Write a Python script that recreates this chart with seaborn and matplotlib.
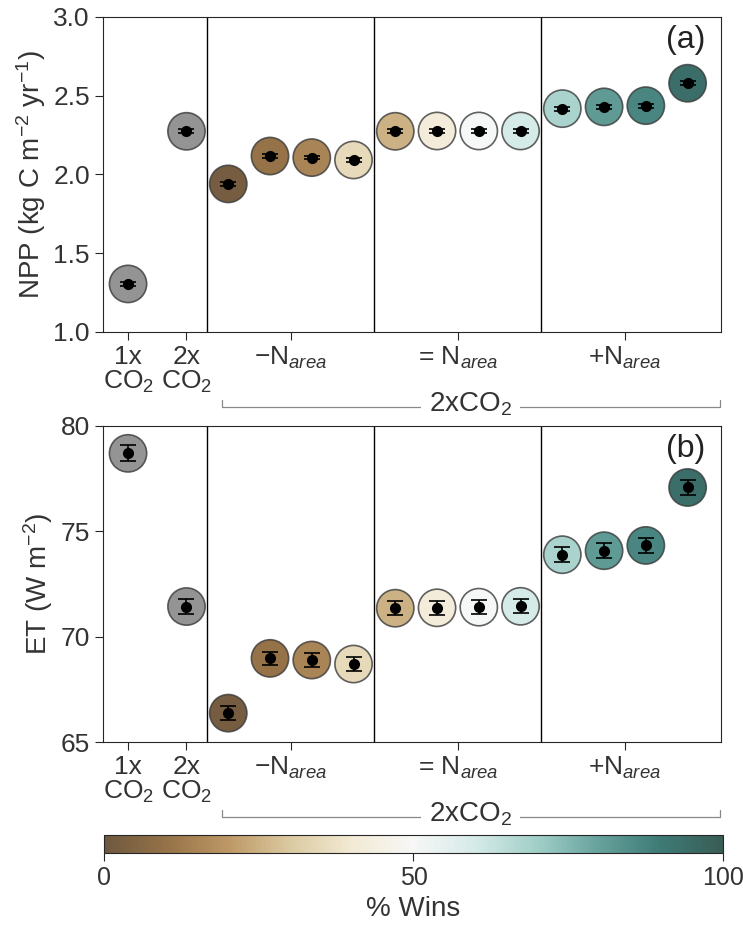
import numpy as np
import matplotlib
matplotlib.use("Agg")
import matplotlib.pyplot as plt
import matplotlib.transforms as mtransforms
from matplotlib.colors import ListedColormap, Normalize, to_rgba
from matplotlib.cm import ScalarMappable
import seaborn as sns

# experiments: 1xCO2, 2xCO2, then 4 runs each for -Narea, =Narea, +Narea
npp = [1.305, 2.274, 1.940, 2.117, 2.107, 2.092, 2.274, 2.276, 2.276, 2.276,
       2.418, 2.429, 2.437, 2.579]
npp_err = [0.012] * 14
et = [78.70, 71.43, 66.37, 68.97, 68.89, 68.70, 71.35, 71.37, 71.40, 71.44,
      73.89, 74.08, 74.33, 77.08]
et_err = [0.38, 0.35, 0.33, 0.32, 0.32, 0.32, 0.33, 0.33, 0.33, 0.33,
          0.35, 0.35, 0.36, 0.37]
# % wins for the 12 Narea runs (colour)
wins = [2, 10, 15, 35, 25, 42, 50, 60, 68, 82, 87, 94]

tick_labels = ["1x\nCO$_2$", "2x\nCO$_2$", "$-$N$_{area}$", "= N$_{area}$", "+N$_{area}$"]

sns.set_style("ticks")
plt.rcParams["font.family"] = ["Liberation Sans", "DejaVu Sans"]
plt.rcParams["mathtext.fontset"] = "custom"
plt.rcParams["mathtext.rm"] = "Liberation Sans"
plt.rcParams["mathtext.it"] = "Liberation Sans:italic"

alpha = 0.8
base = [sns.desaturate(c, 0.75) for c in plt.get_cmap("BrBG")(np.linspace(0, 1, 256))[:, :3]]
base = np.column_stack([np.array(base), np.full(256, alpha)])
cmap = ListedColormap(base)
norm = Normalize(0, 100)

xpos = np.r_[-2.4, -1.0, np.arange(12)]
tick_pos = [-2.4, -1.0, 1.5, 5.5, 9.5]

fig = plt.figure(figsize=(7.43, 9.26), dpi=100)
ax1 = fig.add_axes([0.1386, 0.6415, 0.8318, 0.3402])
ax2 = fig.add_axes([0.1386, 0.1987, 0.8318, 0.3413])
cax = fig.add_axes([0.1400, 0.0788, 0.8330, 0.0194])

point_colors = np.array([to_rgba("#7a7a7a")] * 2 + [cmap(norm(w)) for w in wins])


def panel(ax, vals, errs, ylim, yticks, ylabel, tag):
    sns.scatterplot(x=xpos, y=vals, ax=ax, s=720, c=point_colors, alpha=alpha,
                    edgecolor="#3a3a3a", linewidth=1.2, zorder=2, legend=False)
    ax.errorbar(xpos, vals, yerr=errs, fmt="o", color="k", ms=7,
                capsize=6, elinewidth=1.2, capthick=1.2, zorder=3)
    for xv in [-0.5, 3.5, 7.5]:
        ax.axvline(xv, color="k", lw=1, zorder=1)
    ax.set_xlim(-3.0, 11.8)
    ax.set_ylim(*ylim)
    ax.set_yticks(yticks)
    ax.set_xticks(tick_pos)
    ax.set_xticklabels(tick_labels, fontsize=19, linespacing=1.0)
    ax.tick_params(axis="y", labelsize=19)
    ax.tick_params(length=6, labelcolor="#333333")
    ax.set_ylabel(ylabel, fontsize=20, color="#333333")
    ax.text(0.975, 0.975, tag, transform=ax.transAxes, ha="right", va="top",
            fontsize=23, color="#222222")
    # bracket for the 2xCO2 group
    trans = mtransforms.blended_transform_factory(ax.transData, ax.transAxes)
    ax.plot([-0.15, -0.15, 11.78, 11.78], [-0.215, -0.238, -0.238, -0.215],
            transform=trans, clip_on=False, color="#888888", lw=0.9)
    ax.text(5.8, -0.228, "2xCO$_2$", transform=trans, ha="center", va="center",
            fontsize=20, color="#333333",
            bbox=dict(boxstyle="square,pad=0.3", fc="white", ec="none"))


panel(ax1, npp, npp_err, (1.0, 3.0), [1.0, 1.5, 2.0, 2.5, 3.0],
      "NPP (kg C m$^{-2}$ yr$^{-1}$)", "(a)")
panel(ax2, et, et_err, (65, 80), [65, 70, 75, 80], "ET (W m$^{-2}$)", "(b)")

sm = ScalarMappable(norm=norm, cmap=cmap)
cb = fig.colorbar(sm, cax=cax, orientation="horizontal", ticks=[0, 50, 100])
cb.ax.tick_params(labelsize=18, length=6, labelcolor="#333333")
cb.set_label("% Wins", fontsize=20, color="#333333")

fig.savefig("out.png", dpi=100)
